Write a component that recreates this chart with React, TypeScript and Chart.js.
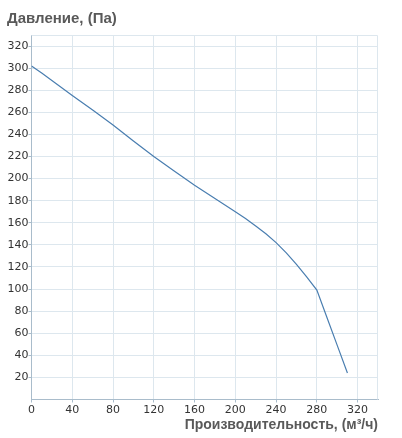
import React, { useEffect, useRef } from "react";
import { Chart, registerables } from "chart.js";

Chart.register(...registerables);

const flowValues = [0, 10, 20, 30, 40, 60, 80, 100, 120, 140, 160, 180, 200, 210, 220, 230, 240, 250, 260, 270, 280, 290, 300, 310];
const pressureValues = [302, 295.5, 288.8, 282, 275.3, 262, 248.5, 234, 220, 206.8, 194, 182, 170, 163.8, 157, 150, 142, 132.8, 122.3, 111, 99, 74, 49, 24];

const xTickValues = [0, 40, 80, 120, 160, 200, 240, 280, 320];
const yTickValues = [0, 20, 40, 60, 80, 100, 120, 140, 160, 180, 200, 220, 240, 260, 280, 300, 320];
const xMax = 340;
const yMax = 330;

const yTitle = "Давление, (Па)";
const xTitle = "Производительность, (м³/ч)";

const gridColor = "#dde7ee";
const axisColor = "#a9bccb";

const frameBorder = {
  id: "frameBorder",
  beforeDatasetsDraw(chart: any) {
    const { ctx, chartArea } = chart;
    ctx.save();
    ctx.strokeStyle = gridColor;
    ctx.lineWidth = 1;
    ctx.beginPath();
    const top = Math.round(chartArea.top) + 0.5;
    const right = Math.round(chartArea.right) - 0.5;
    ctx.moveTo(chartArea.left, top);
    ctx.lineTo(right, top);
    ctx.lineTo(right, chartArea.bottom);
    ctx.stroke();
    ctx.restore();
  },
};

export default function App() {
  const ref = useRef<HTMLCanvasElement | null>(null);

  useEffect(() => {
    document.body.style.margin = "0";
    const canvas = ref.current;
    if (!canvas) return;
    const chart = new Chart(canvas, {
      type: "line",
      data: {
        datasets: [
          {
            data: flowValues.map((x, i) => ({ x, y: pressureValues[i] })),
            borderColor: "#4a7eb0",
            borderWidth: 1.2,
            pointRadius: 0,
            tension: 0,
            fill: false,
          },
        ],
      },
      plugins: [frameBorder],
      options: {
        animation: false,
        responsive: false,
        devicePixelRatio: 1,
        layout: { padding: { left: 7, right: 24, top: 0, bottom: 0 } },
        plugins: {
          legend: { display: false },
          tooltip: { enabled: false },
          title: {
            display: true,
            text: yTitle,
            align: "start",
            color: "#595959",
            font: { family: "'Liberation Sans', Arial, sans-serif", size: 15, weight: "bold" },
            padding: { top: 10, bottom: 7 },
          },
        },
        scales: {
          x: {
            type: "linear",
            min: 0,
            max: xMax,
            afterBuildTicks: (s: any) => {
              s.ticks = xTickValues.map((value) => ({ value }));
            },
            afterFit: (s: any) => {
              s.height = 38.5;
            },
            ticks: {
              autoSkip: false,
              color: "#333",
              padding: 1,
              maxRotation: 0,
              font: { family: "'DejaVu Sans', Verdana, sans-serif", size: 11 },
              callback: (v: any) => String(v),
            },
            grid: {
              color: gridColor,
              tickLength: 3,
              tickColor: axisColor,
            },
            border: { color: axisColor, width: 1 },
            title: {
              display: true,
              text: xTitle,
              align: "end",
              color: "#595959",
              font: { family: "'Liberation Sans', Arial, sans-serif", size: 14, weight: "bold" },
              padding: { top: 0, bottom: 4 },
            },
          },
          y: {
            type: "linear",
            min: 0,
            max: yMax,
            afterBuildTicks: (s: any) => {
              s.ticks = yTickValues.map((value) => ({ value }));
            },
            afterFit: (s: any) => {
              s.width = 24.5;
            },
            ticks: {
              autoSkip: false,
              color: "#333",
              padding: 0,
              font: { family: "'DejaVu Sans', Verdana, sans-serif", size: 11 },
              callback: (v: any) => (v === 0 ? "" : String(v)),
            },
            grid: {
              color: gridColor,
              tickLength: 3,
              tickColor: (ctx: any) => (ctx.tick && ctx.tick.value === 0 ? "rgba(0,0,0,0)" : axisColor),
            },
            border: { color: axisColor, width: 1 },
          },
        },
      },
    });
    return () => chart.destroy();
  }, []);

  return <canvas ref={ref} width={402} height={438} style={{ display: "block" }} />;
}
